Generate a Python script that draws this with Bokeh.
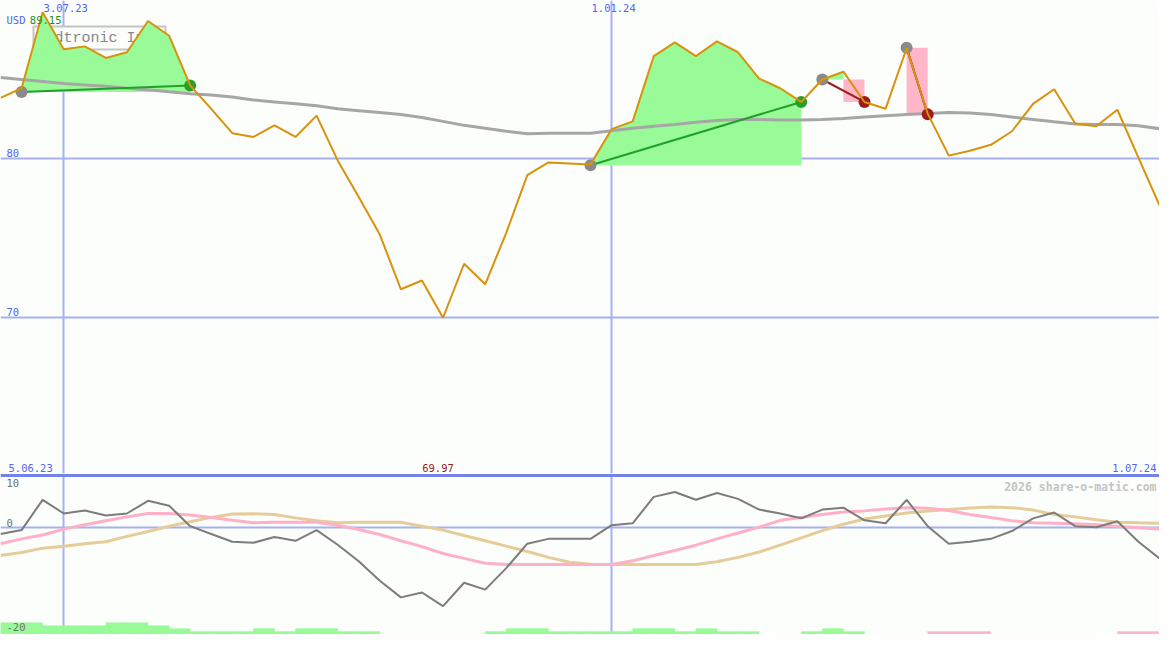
import pandas as pd
from bokeh.plotting import figure
from bokeh.layouts import column
from bokeh.models import Range1d, Label
from bokeh.embed import file_html
from bokeh.resources import INLINE

# ---------------- data ----------------
dates = pd.date_range("2023-06-12", periods=56, freq="7D")

price = [83.77, 84.38, 89.15, 86.83, 87.01, 86.28, 86.64, 88.60, 87.68, 84.56,
         83.09, 81.56, 81.32, 82.05, 81.32, 82.66, 79.85, 77.55, 75.19, 71.76,
         72.31, 69.97, 73.36, 72.07, 75.30, 78.93, 79.72, 79.66, 79.60, 81.81,
         82.30, 86.40, 87.26, 86.40, 87.32, 86.64, 84.99, 84.38, 83.52, 84.93,
         85.42, 83.52, 83.09, 86.89, 82.79, 80.15, 80.46, 80.83, 81.68, 83.40,
         84.32, 82.17, 81.99, 83.03, 80.03, 77.03]

ma = [85.05, 84.93, 84.81, 84.68, 84.59, 84.50, 84.38, 84.29, 84.16, 84.04,
      83.95, 83.83, 83.64, 83.52, 83.40, 83.28, 83.09, 82.97, 82.85, 82.73,
      82.54, 82.30, 82.05, 81.87, 81.68, 81.53, 81.56, 81.56, 81.56, 81.71,
      81.87, 81.99, 82.11, 82.24, 82.36, 82.42, 82.42, 82.39, 82.39, 82.42,
      82.48, 82.57, 82.66, 82.73, 82.79, 82.85, 82.82, 82.73, 82.57, 82.42,
      82.27, 82.14, 82.11, 82.11, 82.02, 81.84]

trade_entry_idx = [1, 28, 39, 43]
trade_exit_idx = [9, 38, 41, 44]
trade_entry_price = [84.15, 79.55, 84.93, 86.93]
trade_exit_price = [84.56, 83.52, 83.52, 82.74]

osc = [-1.21, -0.47, 5.33, 2.71, 3.27, 2.34, 2.71, 5.14, 4.21, 0.28,
       -1.21, -2.71, -2.90, -1.78, -2.52, -0.47, -3.27, -6.45, -10.19, -13.36,
       -12.43, -15.05, -10.56, -11.87, -7.76, -3.08, -2.15, -2.15, -2.15, 0.47,
       0.84, 5.89, 6.82, 5.33, 6.64, 5.51, 3.46, 2.71, 1.78, 3.46,
       3.83, 1.40, 0.84, 5.33, 0.28, -3.08, -2.71, -2.15, -0.65, 1.78,
       2.90, 0.28, 0.09, 1.21, -2.71, -5.89]

osc_fast = [-3.08, -2.15, -1.40, -0.28, 0.56, 1.31, 2.06, 2.71, 2.71, 2.43,
            1.96, 1.40, 0.93, 1.03, 1.03, 1.03, 0.47, -0.37, -1.31, -2.52,
            -3.64, -4.95, -5.89, -6.82, -7.07, -7.07, -7.07, -7.07, -7.07, -7.07,
            -6.36, -5.33, -4.39, -3.36, -2.15, -1.03, 0.09, 1.40, 1.96, 2.52,
            2.99, 3.21, 3.55, 3.83, 3.70, 3.27, 2.52, 1.96, 1.31, 0.93,
            0.84, 0.75, 0.56, 0.28, 0.00, -0.28]

osc_slow = [-5.33, -4.77, -3.93, -3.55, -3.08, -2.71, -1.68, -0.75, 0.28, 1.12,
            1.96, 2.62, 2.65, 2.52, 1.87, 1.31, 0.93, 1.03, 1.03, 1.03,
            0.28, -0.47, -1.50, -2.52, -3.55, -4.58, -5.70, -6.64, -7.01, -7.07,
            -7.07, -7.07, -7.07, -7.07, -6.54, -5.70, -4.67, -3.36, -1.96, -0.56,
            0.65, 1.64, 2.24, 2.80, 3.18, 3.46, 3.74, 3.96, 3.83, 3.36,
            2.52, 2.06, 1.50, 1.03, 0.93, 0.84]

signal_strength = [4, 4, 3, 3, 3, 4, 4, 3, 2, 1, 1, 1, 2, 1, 2, 2, 1, 1, 0, 0,
                   0, 0, 0, 1, 2, 2, 1, 1, 1, 1, 2, 2, 1, 2, 1, 1, 0, 0, 1, 2,
                   1, 0, 0, 0, -1, -1, -1, 0, 0, 0, 0, 0, 0, -1, -1, 0]

price_ticks = [80, 70]
price_tick_labels = ["80", "70"]
osc_ticks = [10, 0, -20]
osc_tick_labels = ["10", "0", "-20"]
date_tick_idx = [3, 29]
date_tick_labels = ["3.07.23", "1.01.24"]
range_start_label = "5.06.23"
range_end_label = "1.07.24"
currency = "USD"
title = "Medtronic Inc."
watermark = "2026 share-o-matic.com"

# ---------------- style ----------------
bg = "#fbfefb"
grid_blue = "#a8b0f2"
sep_blue = "#7383ea"
lbl_blue = "#5466f0"
orange = "#d8920c"
green_fill = "#98fb98"
pink_fill = "#ffb6c8"
mono = "DejaVu Sans Mono"
W, HT, HB = 1159, 473, 161

xms = [int(t.value // 10**6) for t in dates]
week = xms[1] - xms[0]
x_range = Range1d(xms[0], xms[-1])

def make_fig(h, yr):
    f = figure(width=W, height=h, x_range=x_range, y_range=yr,
               output_backend="svg", toolbar_location=None, min_border=0,
               x_axis_location=None, y_axis_location=None,
               background_fill_color=bg, border_fill_color=bg,
               outline_line_color=None)
    f.grid.visible = False
    return f

# ---------------- top panel ----------------
top = make_fig(HT, Range1d(60.19, 89.89))

top.hspan(y=price_ticks, line_color=grid_blue, line_width=2, level="image")
top.vspan(x=[xms[i] for i in date_tick_idx], line_color=grid_blue, line_width=2, level="image")

top.add_layout(Label(x=33, y=HT - 26, x_units="screen", y_units="screen", text=title,
                     text_font="Liberation Mono", text_font_size="15px", text_color="#888888",
                     text_baseline="top", padding=3, background_fill_color=bg,
                     border_line_color="#c4c4c4", border_line_width=2, level="underlay"))

# trade fills: contiguous gains -> one green polygon, losses -> pink block
pxs, pys, pcol = [], [], []
for e, x, ep, xp in zip(trade_entry_idx, trade_exit_idx, trade_entry_price, trade_exit_price):
    run = None
    for i in range(e, x):
        nxt = price[i + 1] if i + 1 < x else xp
        if price[i + 1] >= ep:
            if run is None:
                run = ([xms[i], xms[i]], [ep, max(price[i], ep)])
            run[0].append(xms[i + 1])
            run[1].append(price[i + 1])
        else:
            if run is not None:
                run[0].append(run[0][-1]); run[1].append(ep)
                pxs.append(run[0]); pys.append(run[1]); pcol.append(green_fill)
                run = None
            pxs.append([xms[i], xms[i], xms[i + 1], xms[i + 1]])
            pys.append([ep, nxt, nxt, ep])
            pcol.append(pink_fill)
    if run is not None:
        run[0].append(run[0][-1]); run[1].append(ep)
        pxs.append(run[0]); pys.append(run[1]); pcol.append(green_fill)
top.patches(pxs, pys, fill_color=pcol, line_color=None)

top.line(xms, ma, line_color="#a6a6a6", line_width=3)

win = [xp >= ep for ep, xp in zip(trade_entry_price, trade_exit_price)]
top.segment(x0=[xms[i] for i in trade_entry_idx], y0=trade_entry_price,
            x1=[xms[i] for i in trade_exit_idx], y1=trade_exit_price,
            line_color=["#22a02a" if w else "#a01c20" for w in win], line_width=2)
top.scatter([xms[i] for i in trade_entry_idx], trade_entry_price, size=12,
            fill_color="#8a8a8a", line_color=None)
top.scatter([xms[i] for i in trade_exit_idx], trade_exit_price, size=12,
            fill_color=["#28a028" if w else "#a01c1c" for w in win], line_color=None)

top.line(xms, price, line_color=orange, line_width=2)

imax = price.index(max(price))
imin = price.index(min(price))
top.add_layout(Label(x=6, y=HT - 19, x_units="screen", y_units="screen", text=currency,
                     text_font=mono, text_font_size="10.5px", text_color=lbl_blue,
                     text_baseline="middle"))
top.add_layout(Label(x=xms[imax], y=HT - 19, y_units="screen", text=f"{max(price):.2f}",
                     text_font=mono, text_font_size="10.5px", text_color="#209020",
                     text_baseline="middle", text_align="center", x_offset=3))
for i, t in zip(date_tick_idx, date_tick_labels):
    top.add_layout(Label(x=xms[i], y=HT - 3, y_units="screen", text=t, text_font=mono,
                         text_font_size="10.5px", text_color=lbl_blue, text_baseline="top",
                         text_align="center", x_offset=2))
for v, t in zip(price_ticks, price_tick_labels):
    top.add_layout(Label(x=6, y=v, x_units="screen", text=t, text_font=mono,
                         text_font_size="10.5px", text_color=lbl_blue,
                         text_baseline="bottom", y_offset=1))
top.add_layout(Label(x=8, y=2, x_units="screen", y_units="screen", text=range_start_label,
                     text_font=mono, text_font_size="10.5px", text_color=lbl_blue,
                     text_baseline="bottom"))
top.add_layout(Label(x=W - 3, y=2, x_units="screen", y_units="screen", text=range_end_label,
                     text_font=mono, text_font_size="10.5px", text_color=lbl_blue,
                     text_baseline="bottom", text_align="right"))
top.add_layout(Label(x=xms[imin], y=2, y_units="screen", text=f"{min(price):.2f}",
                     text_font=mono, text_font_size="10.5px", text_color="#a01c1c",
                     text_baseline="bottom", text_align="center", x_offset=-5))

# ---------------- bottom panel ----------------
ybot = -20.47
bot = make_fig(HB, Range1d(ybot, 10.37))
bot.vspan(x=[xms[i] for i in date_tick_idx], line_color=grid_blue, line_width=2, level="image")
bot.hspan(y=[0], line_color=grid_blue, line_width=2, level="image")
bot.hspan(y=[10], line_color=sep_blue, line_width=3, level="image")

bot.line(xms, osc_slow, line_color="#e6cc99", line_width=3)
bot.line(xms, osc_fast, line_color="#ffb0c6", line_width=3)
bot.line(xms, osc, line_color="#7c7c7c", line_width=2)

bar_unit = 0.56
bx = [x + week / 2 for x, s in zip(xms, signal_strength) if s != 0]
bt = [ybot + abs(s) * bar_unit for s in signal_strength if s != 0]
bc = [green_fill if s > 0 else pink_fill for s in signal_strength if s != 0]
bot.vbar(x=bx, width=week, bottom=ybot, top=bt, fill_color=bc, line_color=bc, line_width=0.5)

for v, t in zip(osc_ticks, osc_tick_labels):
    top_lbl = v == max(osc_ticks)
    bot.add_layout(Label(x=6, y=v, x_units="screen", text=t, text_font=mono,
                         text_font_size="10.5px", text_color="#707070",
                         text_baseline="top" if top_lbl else "bottom",
                         y_offset=-4 if top_lbl else 1))
bot.add_layout(Label(x=W - 3, y=HB - 6, x_units="screen", y_units="screen", text=watermark,
                     text_font=mono, text_font_size="11.5px", text_font_style="bold",
                     text_color="#c4c4c4", text_baseline="top", text_align="right"))

layout = column(top, bot, spacing=0)
open("out.html", "w").write(file_html(layout, INLINE))
